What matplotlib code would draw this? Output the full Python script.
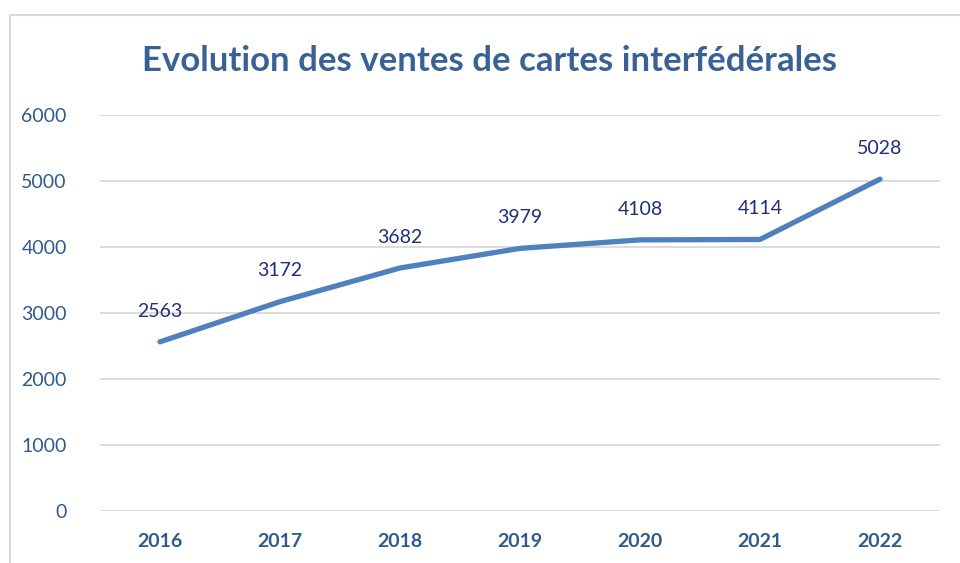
import matplotlib.pyplot as plt
from matplotlib.patches import Rectangle

# Data
years = ['2016', '2017', '2018', '2019', '2020', '2021', '2022']
ventes = [2563, 3172, 3682, 3979, 4108, 4114, 5028]
yticks = [0, 1000, 2000, 3000, 4000, 5000, 6000]

plt.rcParams['font.family'] = ['Lato', 'DejaVu Sans']

fig = plt.figure(figsize=(9.6, 5.63), dpi=100)
ax = fig.add_axes([100 / 960, 1 - 511 / 563, 840 / 960, 396 / 563])

# chart border
fig.patches.append(Rectangle((10 / 960, -0.05), 1.0, 1.05 - 15 / 563, transform=fig.transFigure,
                             fill=False, edgecolor='#d9d9d9', linewidth=1.5))

x = range(len(years))
ax.plot(x, ventes, color='#4f81bd', linewidth=3.8, solid_capstyle='round', solid_joinstyle='round')

for xi, v in zip(x, ventes):
    ax.annotate(str(v), (xi, v), xytext=(0, 16), textcoords='offset points',
                ha='center', va='bottom', fontsize=14, color='#1f2f78')

ax.set_xlim(-0.5, len(years) - 0.5)
ax.set_ylim(0, 6000)
ax.set_yticks(yticks)
ax.set_xticks(list(x))
ax.set_xticklabels(years, fontweight='bold')
ax.tick_params(axis='both', length=0, labelsize=14, labelcolor='#2f5a8c')
ax.tick_params(axis='x', pad=16)
ax.tick_params(axis='y', pad=24)

ax.grid(axis='y', color='#d9d9d9', linewidth=1.3)
ax.set_axisbelow(True)
for s in ax.spines.values():
    s.set_visible(False)

fig.text(490 / 960, 1 - 61 / 563, 'Evolution des ventes de cartes interfédérales',
         ha='center', va='center', fontsize=25, fontweight='bold', color='#3a6195')

fig.savefig('out.png', dpi=100)
